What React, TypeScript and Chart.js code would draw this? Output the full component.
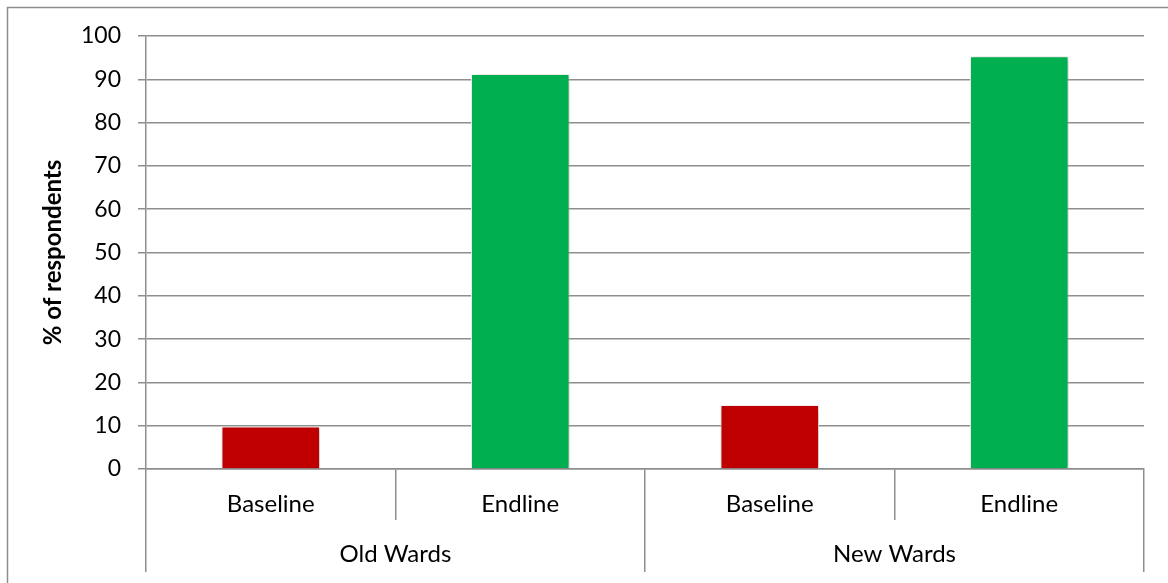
import React, { useEffect, useRef } from "react";
import { Chart, registerables } from "chart.js";

Chart.register(...registerables);

// Inner (period) and outer (ward group) category labels
const periods = ["Baseline", "Endline", "Baseline", "Endline"];
const wardGroups = ["Old Wards", "New Wards"];

// Share of respondents per bar, in %
const respondentShare = [9.8, 91.2, 14.8, 95.3];
const barColors = ["#C00000", "#00B050", "#C00000", "#00B050"];

const yTickValues = [0, 10, 20, 30, 40, 50, 60, 70, 80, 90, 100];

const FONT = "Lato, 'Open Sans', sans-serif";
const GRID = "#8e8e8e";

// Soft drop shadow behind the bars
const barShadow = {
  id: "barShadow",
  beforeDatasetsDraw(chart: any) {
    const ctx = chart.ctx;
    ctx.save();
    ctx.shadowColor = "rgba(0,0,0,0.35)";
    ctx.shadowBlur = 5;
    ctx.shadowOffsetX = 1;
    ctx.shadowOffsetY = 1;
  },
  afterDatasetsDraw(chart: any) {
    chart.ctx.restore();
  },
};

// Outer frame around the chart
const chartFrame = {
  id: "chartFrame",
  afterDraw(chart: any) {
    const ctx = chart.ctx;
    ctx.save();
    ctx.strokeStyle = GRID;
    ctx.lineWidth = 1.5;
    ctx.strokeRect(7.5, 7.5, chart.width + 20, chart.height + 20);
    ctx.restore();
  },
};

export default function App() {
  const canvasRef = useRef<HTMLCanvasElement | null>(null);

  useEffect(() => {
    document.body.style.margin = "0";
    const canvas = canvasRef.current;
    if (!canvas) return;
    const chart = new Chart(canvas, {
      type: "bar",
      data: {
        labels: periods,
        datasets: [
          {
            data: respondentShare,
            backgroundColor: barColors,
            borderColor: "rgba(255,255,255,0.95)",
            borderWidth: 1,
            barPercentage: 0.395,
            categoryPercentage: 1,
            xAxisID: "x",
          },
        ],
      },
      plugins: [barShadow, chartFrame],
      options: {
        animation: false,
        responsive: false,
        maintainAspectRatio: false,
        events: [],
        layout: { padding: { top: 36, right: 24, bottom: 0, left: 0 } },
        plugins: {
          legend: { display: false },
          tooltip: { enabled: false },
          title: { display: false },
        },
        scales: {
          x: {
            type: "category",
            position: "bottom",
            weight: 0,
            offset: true,
            grid: {
              offset: true,
              drawOnChartArea: false,
              drawTicks: true,
              tickLength: 51,
              color: GRID,
              lineWidth: 1.5,
            },
            border: { display: true, color: GRID, width: 1.5 },
            ticks: {
              color: "#000",
              font: { family: FONT, size: 24 },
              padding: -30,
              maxRotation: 0,
              autoSkip: false,
            },
            afterFit(scale: any) {
              scale.height = 51;
            },
          },
          x2: {
            type: "category",
            position: "bottom",
            weight: 1,
            labels: wardGroups,
            offset: true,
            grid: {
              offset: true,
              drawOnChartArea: false,
              drawTicks: true,
              tickLength: 52,
              color: GRID,
              lineWidth: 1.5,
            },
            border: { display: false },
            ticks: {
              color: "#000",
              font: { family: FONT, size: 24 },
              padding: -32,
              maxRotation: 0,
              autoSkip: false,
            },
            afterFit(scale: any) {
              scale.height = 63;
            },
          },
          y: {
            type: "linear",
            position: "left",
            min: 0,
            max: 100,
            afterBuildTicks(scale: any) {
              scale.ticks = yTickValues.map((v) => ({ value: v }));
            },
            grid: {
              color: GRID,
              lineWidth: 1.5,
              drawTicks: true,
              tickLength: 8,
            },
            border: { display: true, color: GRID, width: 1.5 },
            ticks: {
              color: "#000",
              font: { family: FONT, size: 23 },
              padding: 17,
            },
            title: {
              display: true,
              text: "% of respondents",
              color: "#000",
              font: { family: FONT, size: 24, weight: "bold" },
              padding: { top: 39, bottom: 0 },
            },
            afterFit(scale: any) {
              scale.width = 146;
            },
          },
        },
      },
    });
    return () => chart.destroy();
  }, []);

  return (
    <div style={{ width: 1168, height: 583 }}>
      <canvas ref={canvasRef} width={1168} height={583} style={{ display: "block" }} />
    </div>
  );
}
